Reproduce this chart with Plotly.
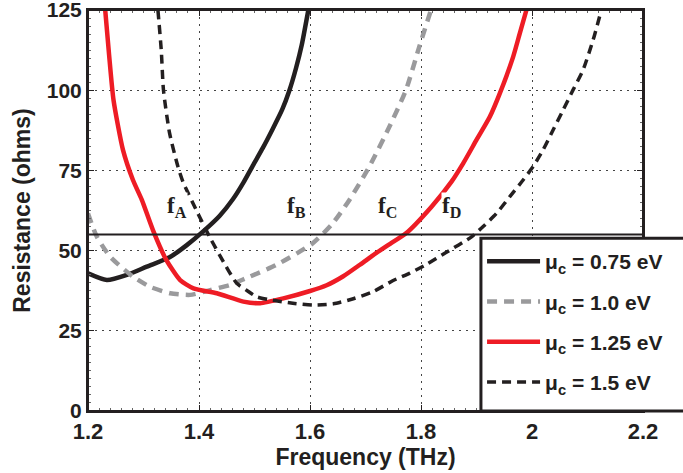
import plotly.graph_objects as go

# ---- data ----
f_075 = [1.200, 1.234, 1.270, 1.306, 1.347, 1.378, 1.407, 1.437, 1.461, 1.480, 1.497, 1.515, 1.533, 1.550, 1.563, 1.575, 1.585, 1.597]
R_075 = [42.9, 40.8, 42.4, 45.0, 47.9, 51.7, 55.9, 60.8, 66.0, 71.2, 76.5, 82.0, 88.0, 94.0, 100.0, 107.0, 114.0, 125.0]

f_100 = [1.200, 1.216, 1.240, 1.281, 1.312, 1.348, 1.384, 1.420, 1.456, 1.485, 1.539, 1.605, 1.641, 1.671, 1.707, 1.743, 1.773, 1.797, 1.818]
R_100 = [61.6, 54.3, 48.1, 41.9, 38.7, 36.7, 36.2, 37.7, 39.3, 41.4, 45.5, 52.3, 58.5, 65.8, 76.2, 88.6, 100.1, 113.6, 125.0]

f_125 = [1.231, 1.238, 1.246, 1.263, 1.281, 1.297, 1.317, 1.341, 1.366, 1.390, 1.432, 1.480, 1.510, 1.552, 1.600, 1.630, 1.660,
         1.690, 1.719, 1.745, 1.773, 1.819, 1.855, 1.876, 1.900, 1.924, 1.942, 1.966, 1.978, 1.990]
R_125 = [125.0, 111.0, 96.9, 81.4, 72.0, 65.8, 56.4, 47.1, 40.8, 38.2, 36.7, 34.1, 33.6, 35.1, 37.4, 39.2, 42.0,
         45.6, 49.2, 52.2, 55.4, 63.7, 71.5, 77.2, 84.5, 91.7, 99.0, 110.4, 117.7, 125.0]

f_150 = [1.326, 1.332, 1.336, 1.347, 1.362, 1.371, 1.398, 1.419, 1.449, 1.468, 1.485, 1.504, 1.530, 1.569, 1.606, 1.642, 1.678,
         1.714, 1.749, 1.780, 1.809, 1.845, 1.891, 1.912, 1.936, 1.960, 1.984, 2.002, 2.020, 2.038, 2.056, 2.074, 2.092, 2.110, 2.125]
R_150 = [125.0, 112.5, 100.0, 86.6, 76.2, 71.5, 61.6, 54.3, 45.0, 39.8, 37.7, 35.6, 34.6, 33.6, 33.0, 33.4, 35.0,
         37.2, 40.6, 43.0, 45.6, 49.4, 54.3, 57.5, 61.6, 66.8, 72.0, 76.2, 81.4, 87.6, 93.8, 100.1, 106.3, 115.6, 125.0]

R_ref = 55  # horizontal reference resistance

labels = ["f<sub>A</sub>", "f<sub>B</sub>", "f<sub>C</sub>", "f<sub>D</sub>"]
label_f = [1.360, 1.576, 1.740, 1.855]
label_R = [63.5, 63.5, 63.5, 63.5]

x_ticks = [1.2, 1.4, 1.6, 1.8, 2.0, 2.2]
x_ticktext = ["1.2", "1.4", "1.6", "1.8", "2", "2.2"]
y_ticks = [0, 25, 50, 75, 100, 125]

# ---- figure ----
fig = go.Figure()

fig.add_hline(y=R_ref, line=dict(color="#231f20", width=2), layer="above")

series = [
    (f_075, R_075, "μ<sub>c</sub> = 0.75 eV", dict(color="#231f20", width=4.5, dash="solid")),
    (f_100, R_100, "μ<sub>c</sub> = 1.0 eV", dict(color="#9a9a9c", width=4.5, dash="10px,7px")),
    (f_125, R_125, "μ<sub>c</sub> = 1.25 eV", dict(color="#ee1c25", width=4.5, dash="solid")),
    (f_150, R_150, "μ<sub>c</sub> = 1.5 eV", dict(color="#231f20", width=3.5, dash="9px,6px")),
]
for i, (fx, ry, name, ln) in enumerate(series):
    fig.add_trace(go.Scatter(x=fx, y=ry, mode="lines", name=name,
                             line=dict(shape="spline", smoothing=0.6, **ln),
                             legendgroup=str(i)))

for t, fx, ry in zip(labels, label_f, label_R):
    fig.add_annotation(x=fx, y=ry, text=t, showarrow=False,
                       font=dict(family="Liberation Serif", size=23, color="#231f20", weight="bold"),
                       bgcolor="white", borderpad=0)

# plot frame (box)
fig.add_shape(type="rect", xref="paper", yref="paper", x0=0, x1=1, y0=0, y1=1,
              line=dict(color="#231f20", width=2), layer="above")
# legend box (extends past the right edge of the figure, as in the reference)
fig.add_shape(type="rect", xref="paper", yref="paper", x0=0.708, x1=1.2, y0=0, y1=0.431,
              line=dict(color="#231f20", width=3), fillcolor="white", layer="above")

axis_common = dict(showline=True, linecolor="#231f20", linewidth=2, mirror="ticks",
                   ticks="inside", ticklen=6, tickwidth=1, tickcolor="#231f20",
                   showgrid=True, gridcolor="#444444", griddash="2px,5px", gridwidth=1,
                   zeroline=False, automargin=False, ticklabeloverflow="allow")

fig.update_xaxes(range=[1.2, 2.2], tickvals=x_ticks, ticktext=x_ticktext,
                 tickfont=dict(family="Liberation Sans", size=22, color="#231f20", weight="bold"),
                 title=dict(text="Frequency (THz)", font=dict(family="Liberation Sans", size=23, color="#231f20", weight="bold"), standoff=4),
                 minor=dict(dtick=0.02, ticks="inside", ticklen=3, tickcolor="#666666", showgrid=False),
                 **axis_common)
fig.update_yaxes(range=[0, 125], tickvals=y_ticks,
                 tickfont=dict(family="Liberation Sans", size=21, color="#231f20", weight="bold"),
                 title=dict(text="Resistance (ohms)", font=dict(family="Liberation Sans", size=23, color="#231f20", weight="bold"), standoff=10),
                 minor=dict(dtick=2.5, ticks="inside", ticklen=3, tickcolor="#666666", showgrid=False),
                 **axis_common)

fig.update_layout(
    width=683, height=473,
    margin=dict(l=88, r=40, t=10, b=62),
    plot_bgcolor="white", paper_bgcolor="white",
    legend=dict(x=0.710, y=0.424, xanchor="left", yanchor="top",
                bgcolor="rgba(0,0,0,0)", borderwidth=0,
                font=dict(family="Liberation Sans", size=21, color="#231f20", weight="bold"),
                itemwidth=53, tracegroupgap=10),
    showlegend=True,
)

fig.write_html("out.html")
